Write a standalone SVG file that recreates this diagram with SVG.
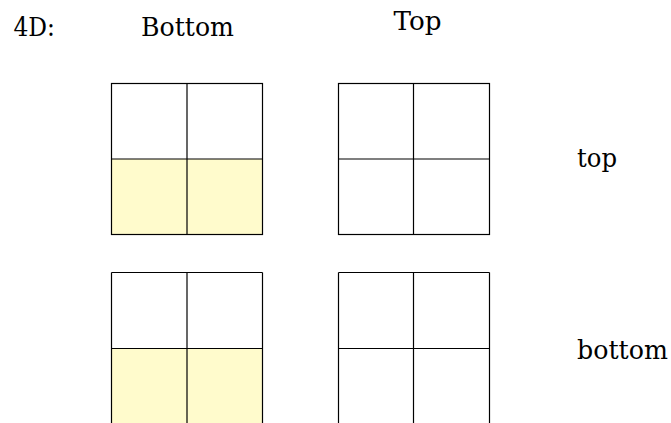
<svg xmlns="http://www.w3.org/2000/svg" width="671" height="423" viewBox="0 0 671 423">
<style>
.t{font-family:'DejaVu Serif',serif;font-size:26px;fill:#000}
.ln{stroke:#000;stroke-width:1.2;fill:none}
.y{fill:#FFFBCC;stroke:none}
</style>
<rect width="671" height="423" fill="#fff"/>
<g id="labels">
<text class="t" x="13.5" y="36" textLength="41.5" lengthAdjust="spacingAndGlyphs">4D:</text>
<text class="t" x="141" y="36" textLength="93" lengthAdjust="spacingAndGlyphs">Bottom</text>
<text class="t" x="393.5" y="30" textLength="48" lengthAdjust="spacingAndGlyphs">Top</text>
<text class="t" x="577" y="167" textLength="40" lengthAdjust="spacingAndGlyphs">top</text>
<text class="t" x="577" y="359" textLength="91" lengthAdjust="spacingAndGlyphs">bottom</text>
</g>
<g id="grid-top-bottom">
<rect class="y" x="111.5" y="159" width="151" height="75.5"/>
<rect class="ln" x="111.5" y="83.5" width="151" height="151"/>
<line class="ln" x1="187" y1="83.5" x2="187" y2="234.5"/>
<line class="ln" x1="111.5" y1="159" x2="262.5" y2="159"/>
</g>
<g id="grid-top-top">
<rect class="ln" x="338.5" y="83.5" width="151" height="151"/>
<line class="ln" x1="413.5" y1="83.5" x2="413.5" y2="234.5"/>
<line class="ln" x1="338.5" y1="159" x2="489.5" y2="159"/>
</g>
<g id="grid-bottom-bottom">
<rect class="y" x="111.5" y="348.5" width="151" height="80"/>
<line class="ln" x1="111.5" y1="272.5" x2="262.5" y2="272.5"/>
<line class="ln" x1="111.5" y1="272.5" x2="111.5" y2="430"/>
<line class="ln" x1="262.5" y1="272.5" x2="262.5" y2="430"/>
<line class="ln" x1="187" y1="272.5" x2="187" y2="430"/>
<line class="ln" x1="111.5" y1="348.5" x2="262.5" y2="348.5"/>
</g>
<g id="grid-bottom-top">
<line class="ln" x1="338.5" y1="272.5" x2="489.5" y2="272.5"/>
<line class="ln" x1="338.5" y1="272.5" x2="338.5" y2="430"/>
<line class="ln" x1="489.5" y1="272.5" x2="489.5" y2="430"/>
<line class="ln" x1="413.5" y1="272.5" x2="413.5" y2="430"/>
<line class="ln" x1="338.5" y1="348.5" x2="489.5" y2="348.5"/>
</g>
<g id="connectors"/>
</svg>
